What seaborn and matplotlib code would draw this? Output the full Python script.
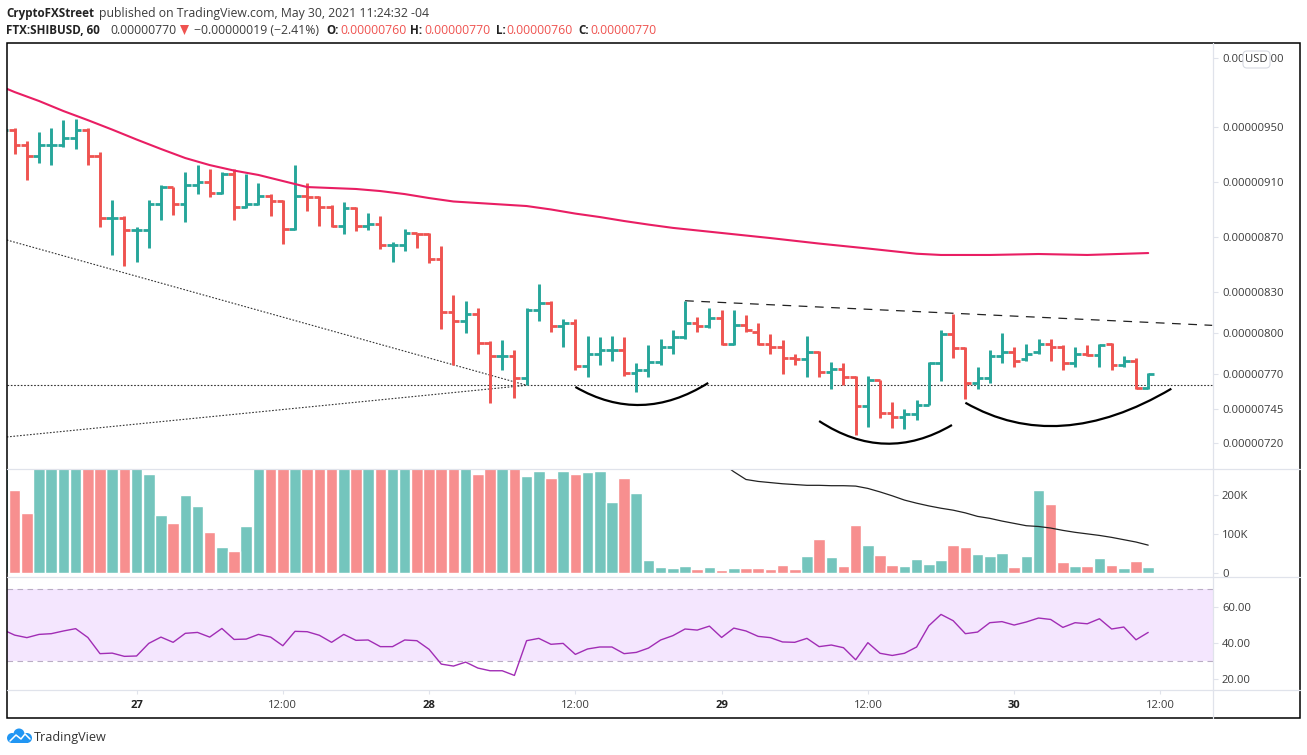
import matplotlib
matplotlib.use("Agg")
import matplotlib.pyplot as plt
from matplotlib.patches import Circle, FancyBboxPatch, PathPatch, Polygon, Rectangle
from matplotlib.path import Path
import numpy as np
import pandas as pd
import seaborn as sns

# prices are in units of 0.00000001, hour 0 is the 27th 00:00
first_hour = -11
opens = [945, 948, 937, 929, 937, 937, 942, 948, 929, 884, 884,
         875, 875, 894, 906, 894, 908, 910, 902, 916, 892, 894, 900, 896, 876, 900, 899,
         892, 878, 891, 878, 879, 864, 864, 873, 872, 854, 815, 809, 814, 793, 783, 783,
         767, 817, 822, 805, 807, 776, 785, 788, 788, 771, 773, 779, 790, 797, 807, 805,
         811, 792, 806, 801, 792, 790, 782, 781, 786, 772, 774, 768, 747, 766, 742, 739,
         741, 748, 778, 799, 789, 764, 767, 783, 786, 781, 786, 792, 790, 778, 785, 784,
         792, 777, 780, 760]
highs = [950, 949, 940, 946, 949, 955, 956, 949, 932, 897, 885,
         877, 897, 908, 906, 917, 922, 919, 917, 919, 916, 909, 901, 897, 922, 909, 900,
         893, 895, 892, 887, 885, 866, 876, 873, 873, 863, 828, 823, 818, 794, 795, 788,
         818, 836, 823, 810, 810, 798, 797, 798, 797, 778, 791, 796, 802, 823, 812, 818,
         817, 817, 813, 807, 799, 795, 785, 798, 787, 779, 778, 769, 769, 766, 750, 745,
         751, 779, 802, 814, 790, 775, 788, 800, 790, 792, 796, 796, 791, 790, 791, 792,
         793, 783, 782, 771]
lows = [930, 930, 911, 924, 922, 935, 934, 922, 877, 857, 849,
        852, 862, 882, 886, 881, 901, 899, 901, 882, 891, 893, 885, 865, 875, 889, 878,
        877, 872, 874, 875, 861, 852, 860, 862, 851, 803, 777, 800, 785, 749, 773, 753,
        762, 809, 801, 790, 773, 768, 777, 780, 769, 757, 768, 777, 785, 796, 801, 804,
        791, 791, 801, 791, 785, 770, 777, 768, 768, 759, 762, 726, 732, 738, 731, 730,
        737, 748, 765, 782, 752, 759, 764, 778, 775, 780, 785, 780, 773, 775, 783, 775,
        773, 775, 759, 759]
closes = [948, 937, 929, 937, 937, 942, 948, 929, 884, 884, 875,
          875, 894, 906, 894, 908, 910, 902, 916, 892, 894, 900, 896, 876, 900, 899, 892,
          878, 891, 878, 879, 864, 864, 873, 872, 854, 815, 809, 814, 793, 783, 783, 767,
          817, 822, 805, 807, 776, 785, 788, 788, 771, 773, 779, 790, 797, 807, 805, 811,
          792, 806, 802, 792, 790, 782, 781, 786, 772, 774, 768, 747, 766, 742, 739, 741,
          748, 778, 799, 789, 764, 767, 783, 786, 780, 785, 792, 790, 778, 785, 784, 791,
          777, 780, 760, 770]

# volume in thousands, bars that run off the pane are read as 290
volume = [290, 214, 155, 290, 290, 290, 290, 290, 290, 290, 290,
          290, 255, 149, 129, 201, 173, 106, 67, 57, 119, 290, 290, 290, 290, 290, 290,
          290, 290, 290, 290, 290, 290, 290, 290, 290, 290, 290, 290, 255, 290, 290, 290,
          250, 263, 245, 263, 255, 260, 263, 183, 245, 206, 33, 15, 13, 18, 10, 15,
          8, 13, 13, 13, 10, 21, 10, 44, 88, 41, 18, 124, 72, 46, 21, 18,
          36, 23, 34, 72, 67, 49, 44, 52, 15, 44, 214, 178, 28, 18, 18, 39,
          21, 13, 31, 15]
volume_ma_hours = list(range(48, 84))
volume_ma = [283, 260, 240, 235, 232, 229, 227, 225, 225, 224, 224, 223, 217, 208, 198, 187, 179, 172,
             166, 161, 154, 145, 140, 133, 127, 121, 119, 115, 109, 104, 100, 96, 91, 85, 79, 71]

ma_hours = [-11, -10, -8, -6, -4, -2, 0, 2, 4, 6, 8, 10, 12, 14, 16, 18, 20, 22, 24, 26, 28, 30, 32, 34, 36,
            38, 40, 42, 44, 48, 52, 56, 60, 64, 66, 70, 74, 78, 83]
ma_values = [979, 975.3, 968.8, 961.5, 954.9, 948, 940.8, 933.9, 927.3, 922.2, 918.2, 915, 910.6, 906.2, 905.5,
             904.8, 903.3, 901.1, 898.2, 895.7, 894.6, 893.5, 892.4, 889.9, 886.9, 884.4, 881.5, 878.9, 876.5,
             872.8, 869.1, 865.1, 861.5, 857.7, 856.8, 856.8, 857.5, 856.8, 858.2]

rsi = [47.5, 44.4, 43, 44.8, 45.2, 46.7, 48, 43.1, 34.1, 34.4, 32.6,
       32.8, 39.8, 43.3, 40.4, 45.4, 45.9, 43.3, 48.1, 42, 42.2, 44.8, 43.3, 38.5, 46.5, 46.3, 44.3,
       40.4, 44.8, 41.5, 41.7, 38, 38, 41.7, 41.3, 36.5, 28.3, 27.2, 29.4, 26.1, 24.6, 24.6, 22,
       41.3, 42.6, 39.3, 39.8, 33.7, 36.7, 37.8, 37.8, 34.1, 34.8, 37.2, 41.7, 44.1, 47.8, 47.2, 49.4,
       43.1, 48.3, 46.7, 43.7, 43, 40.6, 40.4, 42.6, 38, 38.9, 37.4, 30.7, 40.2, 34.3, 33.1, 34.3,
       37.8, 49.6, 55.9, 52.4, 45.2, 46.1, 51.3, 51.9, 50, 51.7, 53.9, 53.1, 48.7, 51.3, 50.7, 53.5,
       47.8, 48.9, 41.8, 45.9]

price_ticks = [1000, 950, 910, 870, 830, 800, 770, 745, 720]
volume_ticks = [0, 100, 200]
volume_labels = ["0", "100K", "200K"]
rsi_ticks = [20, 40, 60]
rsi_labels = ["20.00", "40.00", "60.00"]
time_ticks = [0, 12, 24, 36, 48, 60, 72, 84]
time_labels = ["27", "12:00", "28", "12:00", "29", "12:00", "30", "12:00"]

# hand drawn shapes on the chart: (hour, price)
arc_left = [(36, 760.8), (41.4, 733.1), (46.9, 763.7)]
arc_middle = [(56, 736), (61.4, 704.5), (66.9, 733.1)]
arc_right = [(68, 749.3), (75.6, 710.8), (84.9, 759.5)]
neckline_hours = [45, 88.25]
neckline_prices = [823.5, 805.6]
wedge_hours = [-10.65, 32]
wedge_upper = [867.7, 762]
wedge_lower = [724.4, 762]
support_price = 762

UP = "#26A69A"
DOWN = "#EF5350"
UP_VOL = "#74C5BD"
DOWN_VOL = "#F78F8F"
GRID = "#E0E3EB"
TEXT = "#3C3C3C"

sns.set_theme(style="white")
plt.rcParams["font.family"] = ["Open Sans", "DejaVu Sans"]

hours = np.arange(first_hour, first_hour + len(closes))
df = pd.DataFrame({"hour": hours, "open": opens, "high": highs, "low": lows, "close": closes,
                   "volume": volume, "rsi": rsi})
df["side"] = np.where(df["close"] >= df["open"], "up", "down")

W, H = 1307, 755
fig = plt.figure(figsize=(W / 100, H / 100), dpi=100, facecolor="white")


def pane(top, bottom):
    a = fig.add_axes([7 / W, 1 - bottom / H, (1212.8 - 7) / W, (bottom - top) / H])
    a.set_xlim(-10.63, 88.3)
    for s in a.spines.values():
        s.set_visible(False)
    a.yaxis.tick_right()
    a.tick_params(axis="y", length=3.6, width=0.8, color=GRID, labelcolor=TEXT, labelsize=8.1, pad=3, right=True, left=False)
    a.tick_params(axis="x", bottom=False, labelbottom=False)
    return a


ax = pane(43, 469)
ax_vol = pane(469, 577)
ax_rsi = pane(577, 690)

# price pane
ax.set_ylim(701.1, 1011)
colors = [UP if s == "up" else DOWN for s in df["side"]]
ax.vlines(df["hour"], df["low"], df["high"], colors=colors, linewidth=2.1, capstyle="butt", zorder=3)
ax.hlines(df["open"], df["hour"] - 0.47, df["hour"], colors=colors, linewidth=2.0, capstyle="butt", zorder=3)
ax.hlines(df["close"], df["hour"], df["hour"] + 0.47, colors=colors, linewidth=2.0, capstyle="butt", zorder=3)
sns.lineplot(x=ma_hours, y=ma_values, color="#E91E63", linewidth=1.5, estimator=None, ax=ax, zorder=4)

ax.axhline(support_price, color="#333333", linewidth=0.8, linestyle=(0, (1.5, 1.5)), zorder=2)
ax.plot(wedge_hours, wedge_upper, color="#333333", linewidth=0.8, linestyle=(0, (1.5, 1.5)), zorder=2)
ax.plot(wedge_hours, wedge_lower, color="#333333", linewidth=0.8, linestyle=(0, (1.5, 1.5)), zorder=2)
ax.plot(neckline_hours, neckline_prices, color="#222222", linewidth=0.9, linestyle=(0, (7, 6)), zorder=2)
for arc in [arc_left, arc_middle, arc_right]:
    ax.add_patch(PathPatch(Path(arc, [Path.MOVETO, Path.CURVE3, Path.CURVE3]), fill=False,
                           edgecolor="black", linewidth=1.6, zorder=5))
ax.set_yticks(price_ticks)
ax.set_yticklabels([f"{p * 1e-8:.8f}" for p in price_ticks])
ax.set_xlabel("")
ax.set_ylabel("")

# volume pane
sns.barplot(data=df, x="hour", y="volume", hue="side", palette={"up": UP_VOL, "down": DOWN_VOL},
            native_scale=True, dodge=False, width=0.95, saturation=1, legend=False, ax=ax_vol, zorder=2)
sns.lineplot(x=volume_ma_hours, y=volume_ma, color="#222222", linewidth=0.9, estimator=None, ax=ax_vol, zorder=4)
ax_vol.set_xlim(-10.63, 88.3)
ax_vol.set_ylim(-11, 267)
ax_vol.set_yticks(volume_ticks)
ax_vol.set_yticklabels(volume_labels)
ax_vol.tick_params(axis="x", bottom=False, labelbottom=False)
ax_vol.set_xlabel("")
ax_vol.set_ylabel("")

# rsi pane
ax_rsi.axhspan(30, 70, color="#F4E6FE", linewidth=0, zorder=1)
ax_rsi.axhline(70, color="#B9ADC4", linewidth=0.8, linestyle=(0, (5, 4)), zorder=2)
ax_rsi.axhline(30, color="#B9ADC4", linewidth=0.8, linestyle=(0, (5, 4)), zorder=2)
sns.lineplot(data=df, x="hour", y="rsi", color="#A12DB5", linewidth=1.0, estimator=None, ax=ax_rsi, zorder=3)
ax_rsi.set_xlim(-10.63, 88.3)
ax_rsi.set_ylim(13.9, 76.7)
ax_rsi.set_yticks(rsi_ticks)
ax_rsi.set_yticklabels(rsi_labels)
ax_rsi.set_xlabel("")
ax_rsi.set_ylabel("")
ax_rsi.set_xticks(time_ticks)
ax_rsi.set_xticklabels(time_labels)
ax_rsi.tick_params(axis="x", bottom=True, labelbottom=True, length=3, width=0.8, color=GRID, labelcolor=TEXT,
                   labelsize=8.1, pad=4)
for lab in ax_rsi.get_xticklabels():
    if ":" not in lab.get_text():
        lab.set_fontweight("bold")
        lab.set_color("#222222")

# frame, header, badge and logo live on a pixel sized overlay
over = fig.add_axes([0, 0, 1, 1], zorder=10)
over.set_xlim(0, W)
over.set_ylim(H, 0)
over.axis("off")
over.patch.set_visible(False)

over.plot([1212.8, 1212.8], [43, 718], color=GRID, linewidth=0.9)
for y in [469, 577, 690]:
    over.plot([7, 1300], [y, y], color=GRID, linewidth=0.9)
over.add_patch(Rectangle((6.5, 43), 1293.5, 675, fill=False, edgecolor="black", linewidth=1.1))

head = {"fontsize": 8.8, "va": "center", "ha": "left"}
bold = {"fontsize": 8.4, "va": "center", "ha": "left", "fontweight": "bold", "color": "#222222"}
over.text(6, 13, "CryptoFXStreet", **bold)
over.text(99, 13, "published on TradingView.com, May 30, 2021 11:24:32 -04", color=TEXT, **head)
over.text(6, 30, "FTX:SHIBUSD, 60", **bold)
over.text(110, 30, "0.00000770", color=TEXT, **head)
over.add_patch(Polygon([(180, 25), (189, 25), (184.5, 35)], closed=True, facecolor=DOWN, edgecolor="none"))
over.text(194, 30, "\u22120.00000019 (\u22122.41%)", color=TEXT, **head)
for label, lx, value, vx in [("O:", 326, "0.00000760", 340), ("H:", 410, "0.00000770", 424),
                             ("L:", 496, "0.00000760", 506), ("C:", 578, "0.00000770", 590)]:
    over.text(lx, 30, label, **bold)
    over.text(vx, 30, value, color=DOWN, **head)

over.add_patch(FancyBboxPatch((1245, 53), 23, 13, boxstyle="round,pad=2,rounding_size=4", facecolor="white",
                              edgecolor="#D6D9E2", linewidth=0.8))
over.text(1256.5, 60, "USD", fontsize=8.1, color=TEXT, ha="center", va="center")

logo = "#2196F3"
over.add_patch(Circle((12, 738), 5, facecolor=logo, edgecolor="none"))
over.add_patch(Circle((19, 734), 5.5, facecolor=logo, edgecolor="none"))
over.add_patch(Circle((27, 738), 5, facecolor=logo, edgecolor="none"))
over.add_patch(Rectangle((11, 737), 17, 6, facecolor=logo, edgecolor="none"))
over.plot([10, 16, 21, 25, 30], [741, 735, 739, 734, 739], color="white", linewidth=1.1)
over.text(34, 737, "TradingView", fontsize=9.1, color="#333333", va="center", ha="left")

fig.savefig("out.png", dpi=100, facecolor="white")
